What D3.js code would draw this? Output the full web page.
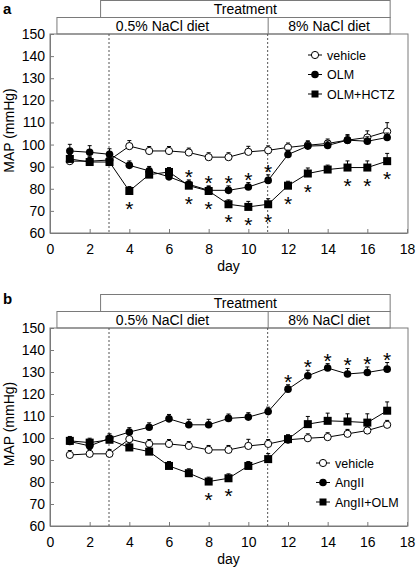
<!DOCTYPE html>
<html>
<head>
<meta charset="utf-8">
<script src="https://cdn.jsdelivr.net/npm/d3@7"></script>
<style>
html,body{margin:0;padding:0;background:#fff;}
svg{display:block;font-family:"Liberation Sans",Arial,sans-serif;}
</style>
</head>
<body>
<svg id="chart" width="417" height="573"></svg>
<script>
// ---- data ----
const days = [1,2,3,4,5,6,7,8,9,10,11,12,13,14,15,16,17];
const xTicks = [0,2,4,6,8,10,12,14,16,18];
const yTicks = [60,70,80,90,100,110,120,130,140,150];
const phaseLabels = ["0.5% NaCl diet","8% NaCl diet"];
const treatmentLabel = "Treatment";

// panel a
const aNames = ["vehicle","OLM","OLM+HCTZ"];
const aVehicle = [92.5,92.5,93.0,99.3,97.1,97.1,96.4,94.3,94.3,96.7,97.4,98.7,99.7,100.5,102.0,103.2,105.9];
const aVehicleErr = [2,2,2,2.5,2,2,2,2,2,2.5,2,2,2,2,2.5,3,4];
const aOLM = [97.1,96.5,95.6,90.6,88.1,85.4,82.0,79.3,79.3,80.8,83.8,95.5,99.3,99.6,102.0,101.5,103.2];
const aOLMErr = [3,3,2.5,2,2,2,2,2,2,2,2.5,2,2,2,2,2,2];
const aHCTZ = [93.5,92.1,92.1,79.0,86.4,87.6,81.4,79.0,73.0,71.8,73.0,81.4,86.9,88.7,89.6,89.6,92.5];
const aHCTZErr = [2,2,2,2,2,2,2,2,2,2.5,2.5,2,2.5,2,3,3,3.5];
const aStarsOLM = [7,8,9,10,11];
const aStarsHCTZ = [4,7,8,9,10,11,12,13,15,16,17];

// panel b
const bNames = ["vehicle","AngII","AngII+OLM"];
const bVehicle = [92.3,92.8,92.8,99.5,97.3,97.3,96.4,94.6,94.6,96.4,97.3,99.2,99.9,100.4,101.9,103.4,106.0];
const bVehicleErr = [2,2,2,2,2,2,2,2,2,3,2,2,2,2,2,2,2];
const bAngII = [98.4,96.4,99.9,102.7,104.9,108.7,106.0,106.0,108.9,109.5,112.0,122.2,128.3,131.8,129.1,129.8,131.3];
const bAngIIErr = [2,2,2,2,2,2,2.5,2.5,2,2,2,2,2.5,2,2.5,2.5,3];
const bAngIIOLM = [98.7,97.9,99.2,95.7,93.8,87.3,84.0,80.2,81.7,87.3,90.4,99.5,106.3,107.8,107.5,107.0,112.4];
const bAngIIOLMErr = [2,2,2,2,2,2,2,2,2,2,2.5,2,3.5,3.5,3.5,4,4];
const bStarsAngII = [12,13,14,15,16,17];
const bStarsAngIIOLM = [8,9];

// ---- drawing ----
const svg = d3.select("#chart");
const gray = "#7a7a7a";
const x = d3.scaleLinear().domain([0,18]).range([50,407]);

function marker(g, type, cx, cy){
  if(type==="open") g.append("circle").attr("cx",cx).attr("cy",cy).attr("r",3.6).attr("fill","#fff").attr("stroke","#000").attr("stroke-width",1);
  else if(type==="dot") g.append("circle").attr("cx",cx).attr("cy",cy).attr("r",3.8).attr("fill","#000");
  else g.append("rect").attr("x",cx-4).attr("y",cy-4).attr("width",8).attr("height",8).attr("fill","#000");
}

function panel(cfg){
  const y = d3.scaleLinear().domain([60,150]).range([cfg.bottom,cfg.top]);
  const g = svg.append("g");
  // letter
  g.append("text").attr("x",3).attr("y",cfg.letterY).attr("font-size",15).attr("font-weight","bold").text(cfg.letter);
  // treatment boxes
  const tTop = cfg.top-34, tMid = cfg.top-17;
  g.append("rect").attr("x",x(2.55)).attr("y",tTop+0.5).attr("width",x(17.15)-x(2.55)).attr("height",17)
    .attr("fill","#fff").attr("stroke",gray);
  g.append("rect").attr("x",x(0.35)).attr("y",tMid+0.5).attr("width",x(17.15)-x(0.35)).attr("height",cfg.top-tMid-0.5)
    .attr("fill","#fff").attr("stroke",gray);
  g.append("line").attr("x1",x(11)).attr("x2",x(11)).attr("y1",tMid).attr("y2",cfg.top).attr("stroke",gray);
  g.append("text").attr("x",(x(2.55)+x(17.15))/2).attr("y",tTop+14).attr("text-anchor","middle").attr("font-size",14).text(treatmentLabel);
  g.append("text").attr("x",(x(0.35)+x(11))/2).attr("y",tMid+14).attr("text-anchor","middle").attr("font-size",14).text(phaseLabels[0]);
  g.append("text").attr("x",(x(11)+x(17.15))/2).attr("y",tMid+14).attr("text-anchor","middle").attr("font-size",14).text(phaseLabels[1]);
  // frame
  g.append("rect").attr("x",x(0)).attr("y",cfg.top).attr("width",x(18)-x(0)+1).attr("height",cfg.bottom-cfg.top)
    .attr("fill","none").attr("stroke",gray);
  // dashed phase lines
  [3,11].forEach(d=>{
    g.append("line").attr("x1",x(d)-0.5).attr("x2",x(d)-0.5).attr("y1",cfg.top).attr("y2",cfg.bottom)
      .attr("stroke","#555").attr("stroke-dasharray","2,2");
  });
  // axes
  const xa = g.append("g").attr("transform",`translate(0,${cfg.bottom})`)
    .call(d3.axisBottom(x).tickValues(xTicks).tickFormat(d3.format("d")).tickSizeInner(-4).tickSizeOuter(0).tickPadding(11));
  const ya = g.append("g").attr("transform",`translate(${x(0)},0)`)
    .call(d3.axisLeft(y).tickValues(yTicks).tickFormat(d3.format("d")).tickSizeInner(-4).tickSizeOuter(0).tickPadding(5));
  [xa,ya].forEach(a=>{
    a.selectAll("path").attr("stroke",gray);
    a.selectAll("line").attr("stroke",gray);
    a.selectAll("text").attr("font-size",14).attr("fill","#000").attr("font-family","Liberation Sans, Arial, sans-serif");
  });
  g.append("text").attr("x",x(9)).attr("y",cfg.bottom+38).attr("text-anchor","middle").attr("font-size",14).text("day");
  g.append("text").attr("transform",`translate(14,${(cfg.top+cfg.bottom)/2 - 3}) rotate(-90)`).attr("text-anchor","middle")
    .attr("font-size",14).text("MAP (mmHg)");

  // series
  const line = d3.line().x((d,i)=>x(days[i])).y(d=>y(d));
  cfg.series.forEach(s=>{
    g.append("path").datum(s.values).attr("d",line).attr("fill","none").attr("stroke","#000").attr("stroke-width",1);
  });
  cfg.series.forEach(s=>{
    const sg = g.append("g");
    s.values.forEach((v,i)=>{
      const cx = x(days[i]), y0 = y(v), y1 = y(v+s.err[i]);
      sg.append("line").attr("x1",cx).attr("x2",cx).attr("y1",y0).attr("y2",y1).attr("stroke","#000");
      sg.append("line").attr("x1",cx-2).attr("x2",cx+2).attr("y1",y1).attr("y2",y1).attr("stroke","#000");
    });
    s.values.forEach((v,i)=>marker(sg,s.type,x(days[i]),y(v)));
  });
  // significance stars
  cfg.stars.forEach(st=>{
    st.days.forEach(d=>{
      const i = days.indexOf(d);
      const v = st.series.values[i];
      const cy = st.pos==="above" ? y(v+st.series.err[i]) - 8 : y(v) + 13;
      g.append("text").attr("x",x(d)).attr("y",cy+12).attr("text-anchor","middle").attr("font-size",21).text("*");
    });
  });
  // legend
  cfg.series.forEach((s,i)=>{
    const ly = cfg.legendY + i*19.5;
    const lx = cfg.legendX;
    g.append("line").attr("x1",lx-7).attr("x2",lx+7).attr("y1",ly).attr("y2",ly).attr("stroke","#000");
    const lg = g.append("g");
    if(s.type==="rect") lg.append("rect").attr("x",lx-3.5).attr("y",ly-3.5).attr("width",7).attr("height",7).attr("fill","#000");
    else marker(lg,s.type,lx,ly);
    g.append("text").attr("x",lx+12).attr("y",ly+4.5).attr("font-size",12.5).text(s.name);
  });
}

const aSeries = [
  {name:aNames[0], values:aVehicle, err:aVehicleErr, type:"open"},
  {name:aNames[1], values:aOLM, err:aOLMErr, type:"dot"},
  {name:aNames[2], values:aHCTZ, err:aHCTZErr, type:"rect"}
];
panel({letter:"a", letterY:14, top:34, bottom:233, series:aSeries, legendX:315, legendY:55,
  stars:[{series:aSeries[1], days:aStarsOLM, pos:"above"},{series:aSeries[2], days:aStarsHCTZ, pos:"below"}]});

const bSeries = [
  {name:bNames[0], values:bVehicle, err:bVehicleErr, type:"open"},
  {name:bNames[1], values:bAngII, err:bAngIIErr, type:"dot"},
  {name:bNames[2], values:bAngIIOLM, err:bAngIIOLMErr, type:"rect"}
];
panel({letter:"b", letterY:304, top:328, bottom:526, series:bSeries, legendX:323, legendY:463,
  stars:[{series:bSeries[1], days:bStarsAngII, pos:"above"},{series:bSeries[2], days:bStarsAngIIOLM, pos:"below"}]});
</script>
</body>
</html>
